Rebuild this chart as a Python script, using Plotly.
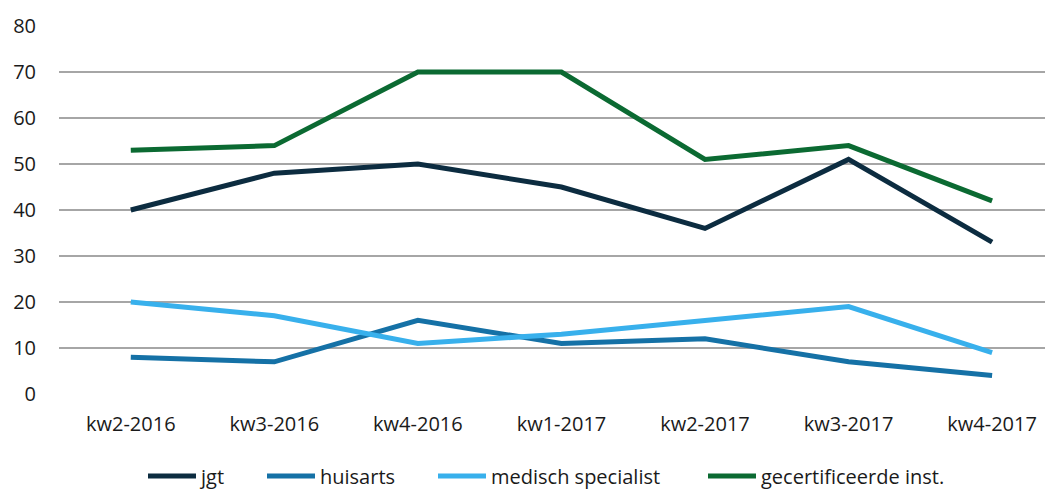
import plotly.graph_objects as go

categories = ["kw2-2016", "kw3-2016", "kw4-2016", "kw1-2017", "kw2-2017", "kw3-2017", "kw4-2017"]
jgt = [40, 48, 50, 45, 36, 51, 33]
huisarts = [8, 7, 16, 11, 12, 7, 4]
medisch_specialist = [20, 17, 11, 13, 16, 19, 9]
gecertificeerde = [53, 54, 70, 70, 51, 54, 42]

series = [
    ("jgt", jgt, "#0c2c40"),
    ("huisarts", huisarts, "#1571a6"),
    ("medisch specialist", medisch_specialist, "#38b0ec"),
    ("gecertificeerde inst.", gecertificeerde, "#0b6a32"),
]

# legend slot positions (figure px of each legend box's left edge)
legend_px = [135, 254, 425, 695]
legend_ids = ["legend", "legend2", "legend3", "legend4"]

L, R, T, B, W, H = 51, 0, 18, 103, 1053, 489

fig = go.Figure()
for (name, vals, color), lid in zip(series, legend_ids):
    fig.add_trace(go.Scatter(
        x=list(range(len(categories))), y=vals, name=name, mode="lines",
        line=dict(color=color, width=5), legend=lid,
    ))

legend_y = -0.223
layout_legends = {}
for lid, px in zip(legend_ids, legend_px):
    layout_legends[lid] = dict(
        orientation="h", x=(px - L) / (W - L - R), xanchor="left",
        y=legend_y, yanchor="middle", font=dict(size=20), itemwidth=48,
        bgcolor="rgba(0,0,0,0)",
    )

fig.update_layout(
    width=W, height=H,
    margin=dict(l=L, r=R, t=T, b=B),
    plot_bgcolor="white", paper_bgcolor="white",
    font=dict(family="Open Sans, Liberation Sans, sans-serif", size=20, color="#1a1a1a"),
    showlegend=True,
    xaxis=dict(
        range=[-0.5, 6.48], tickmode="array", tickvals=list(range(len(categories))),
        ticktext=categories, showgrid=False, zeroline=False, showline=False,
        ticks="", ticklabelstandoff=16,
    ),
    yaxis=dict(
        range=[0, 80], dtick=10, showgrid=True, gridcolor="#a6a6a6", gridwidth=1.5,
        zeroline=False, showline=False, ticks="", ticklabelstandoff=22,
    ),
    **layout_legends,
)

fig.write_html("out.html")
